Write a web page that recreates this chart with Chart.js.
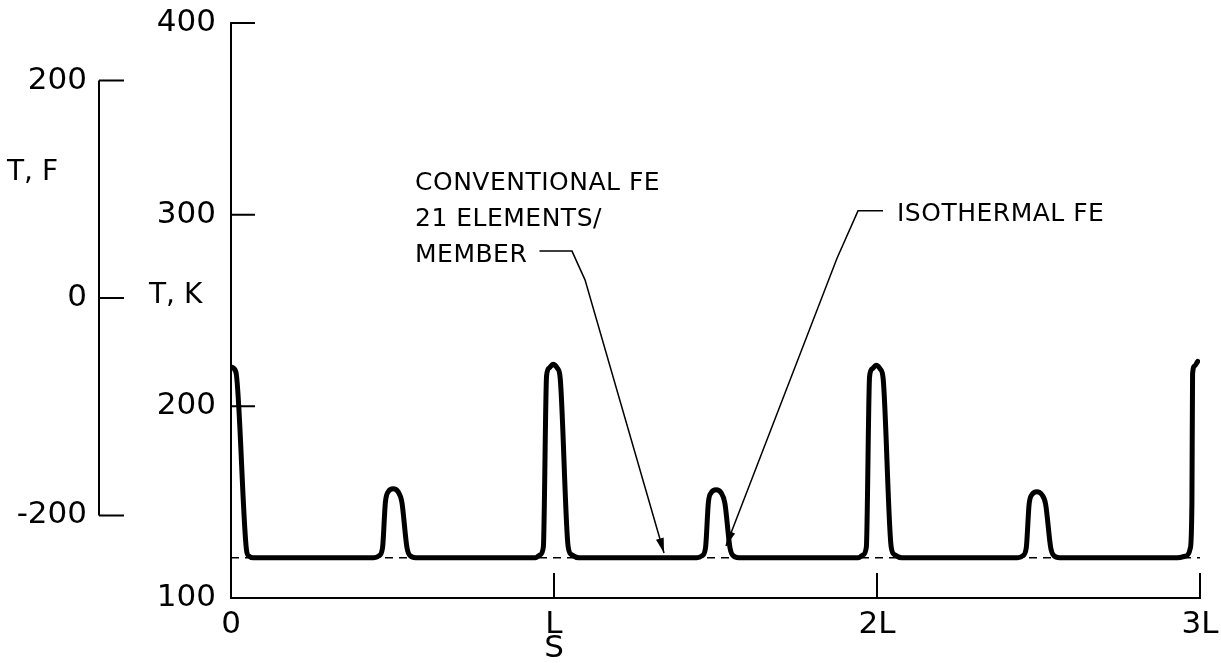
<!DOCTYPE html>
<html>
<head>
<meta charset="utf-8">
<script src="https://cdn.jsdelivr.net/npm/chart.js@4.4.1/dist/chart.umd.min.js"></script>
<style>
  html, body { margin: 0; padding: 0; background: #fff; }
</style>
</head>
<body>
<canvas id="myChart" width="1221" height="663"></canvas>
<script>
// S is in units of member length L, temperatures in K
var sConv = [0, 0.015, 0.048, 0.055, 0.07,
  0.442, 0.458, 0.469, 0.478, 0.487, 0.502, 0.517, 0.529, 0.545, 0.555, 0.572,
  0.942, 0.957, 0.967, 0.977, 0.985, 0.997, 1.010, 1.019, 1.044, 1.055, 1.077,
  1.442, 1.458, 1.469, 1.478, 1.487, 1.502, 1.517, 1.529, 1.545, 1.555, 1.572,
  1.942, 1.957, 1.967, 1.977, 1.985, 1.997, 2.010, 2.019, 2.044, 2.055, 2.077,
  2.435, 2.451, 2.462, 2.471, 2.480, 2.495, 2.510, 2.522, 2.538, 2.548, 2.565,
  2.930, 2.958, 2.970, 2.975, 2.977, 2.983, 2.993];
var tConv = [220.5, 218, 125, 122, 121,
  121, 122, 126, 150, 155.5, 157, 155.5, 150, 126, 122, 121,
  121, 122.5, 126.5, 216, 220, 222, 220, 215, 126.5, 122.5, 121,
  121, 122, 126, 150, 155, 156.5, 155, 149.5, 126, 122, 121,
  121, 122.5, 126.5, 215.5, 219.5, 221.5, 219.5, 214.5, 126.5, 122.5, 121,
  121, 122, 126, 149, 154, 155.5, 154, 149, 126, 122, 121,
  121, 122, 126, 150, 217, 221, 223.5];
var sIso = [0, 3];
var tIso = [121, 121];

var sTicks = [0, 1, 2, 3];
var sTickLabels = ['0', 'L', '2L', '3L'];
var kTicks = [100, 200, 300, 400];
var fTicks = [-200, 0, 200];

var convText = ['CONVENTIONAL FE', '21 ELEMENTS/', 'MEMBER'];
var isoText = 'ISOTHERMAL FE';

function pts(xs, ys) {
  return xs.map(function (x, i) { return { x: x, y: ys[i] }; });
}

var tickFont = { family: 'DejaVu Sans', size: 31 };
var noteFont = '25px "DejaVu Sans"';

function arrowLeader(ctx, chart, path) {
  var x = chart.scales.x, y = chart.scales.y;
  var p = path.map(function (d) { return [x.getPixelForValue(d[0]), y.getPixelForValue(d[1])]; });
  ctx.beginPath();
  ctx.moveTo(p[0][0], p[0][1]);
  for (var i = 1; i < p.length; i++) ctx.lineTo(p[i][0], p[i][1]);
  ctx.stroke();
  // arrow head at the last point
  var a = p[p.length - 2], b = p[p.length - 1];
  var ang = Math.atan2(b[1] - a[1], b[0] - a[0]);
  var len = 15, half = 4;
  ctx.beginPath();
  ctx.moveTo(b[0], b[1]);
  ctx.lineTo(b[0] - len * Math.cos(ang) + half * Math.sin(ang), b[1] - len * Math.sin(ang) - half * Math.cos(ang));
  ctx.lineTo(b[0] - len * Math.cos(ang) - half * Math.sin(ang), b[1] - len * Math.sin(ang) + half * Math.cos(ang));
  ctx.closePath();
  ctx.fill();
}

function noPadY(s) { s.paddingTop = 0; s.paddingBottom = 0; }

var decor = {
  id: 'decor',
  afterDraw: function (chart) {
    var ctx = chart.ctx;
    var x = chart.scales.x, y = chart.scales.y, yF = chart.scales.yF;
    ctx.save();
    ctx.strokeStyle = '#000';
    ctx.fillStyle = '#000';
    ctx.lineWidth = 2;

    // inward tick marks
    ctx.beginPath();
    kTicks.slice(1).forEach(function (v) {
      var py = y.getPixelForValue(v);
      ctx.moveTo(y.right, py); ctx.lineTo(y.right + 24, py);
    });
    sTicks.slice(1).forEach(function (v) {
      var px = x.getPixelForValue(v);
      ctx.moveTo(px, x.top); ctx.lineTo(px, x.top - 25);
    });
    // the T,F scale: line only between its end ticks
    var fTop = yF.getPixelForValue(fTicks[fTicks.length - 1]);
    var fBot = yF.getPixelForValue(fTicks[0]);
    ctx.moveTo(yF.right, fTop); ctx.lineTo(yF.right, fBot);
    fTicks.forEach(function (v) {
      var py = yF.getPixelForValue(v);
      ctx.moveTo(yF.right, py); ctx.lineTo(yF.right + 25, py);
    });
    ctx.stroke();

    // axis titles
    ctx.font = '28px "DejaVu Sans"';
    ctx.textBaseline = 'middle';
    ctx.textAlign = 'left';
    ctx.fillText('T, K', y.left + 50, y.getPixelForValue(257.5));
    ctx.fillText('T, F', yF.left + 7, yF.getPixelForValue(115));
    ctx.textAlign = 'center';
    ctx.font = '31px "DejaVu Sans"';
    ctx.fillText('S', x.getPixelForValue(1), x.bottom - 14);

    // annotations
    ctx.font = noteFont;
    ctx.textAlign = 'left';
    ctx.textBaseline = 'alphabetic';
    if ('letterSpacing' in ctx) ctx.letterSpacing = '0.5px';
    var cx = x.getPixelForValue(0.5697), cy = y.getPixelForValue(312.9);
    convText.forEach(function (t, i) { ctx.fillText(t, cx, cy + i * 36); });
    ctx.fillText(isoText, x.getPixelForValue(2.0619), y.getPixelForValue(296.5));
    if ('letterSpacing' in ctx) ctx.letterSpacing = '0px';

    ctx.lineWidth = 1.5;
    arrowLeader(ctx, chart, [[0.955, 281], [1.0557, 281], [1.096, 266], [1.3406, 123.5]]);
    arrowLeader(ctx, chart, [[2.0186, 302], [1.9412, 302], [1.8762, 277.3], [1.5325, 127.1]]);
    ctx.restore();
  }
};

var ctx = document.getElementById('myChart').getContext('2d');
var chart = new Chart(ctx, {
  type: 'line',
  data: {
    datasets: [{
      label: 'Isothermal FE',
      data: pts(sIso, tIso),
      borderColor: '#000',
      borderWidth: 1.5,
      borderDash: [8, 6],
      pointRadius: 0,
      fill: false
    }, {
      label: 'Conventional FE, 21 elements/member',
      data: pts(sConv, tConv),
      borderColor: '#000',
      borderWidth: 5,
      pointRadius: 0,
      fill: false,
      cubicInterpolationMode: 'monotone',
      borderJoinStyle: 'round',
      borderCapStyle: 'round'
    }]
  },
  options: {
    responsive: false,
    animation: false,
    devicePixelRatio: 1,
    layout: { padding: { top: 23, right: 21, left: 0, bottom: 0 } },
    plugins: { legend: { display: false }, tooltip: { enabled: false } },
    scales: {
      x: {
        type: 'linear',
        min: 0,
        max: 3,
        afterBuildTicks: function (s) { s.ticks = sTicks.map(function (v) { return { value: v }; }); },
        afterFit: function (s) { s.height = 65; s.paddingLeft = 0; s.paddingRight = 0; },
        grid: { display: false, drawTicks: false },
        border: { display: true, color: '#000', width: 2 },
        ticks: {
          color: '#000', font: tickFont, padding: 8, maxRotation: 0, autoSkip: false,
          callback: function (v) { return sTickLabels[sTicks.indexOf(v)]; }
        }
      },
      y: {
        type: 'linear',
        position: 'left',
        weight: 0,
        min: 100,
        max: 400,
        afterBuildTicks: function (s) { s.ticks = kTicks.map(function (v) { return { value: v }; }); },
        afterFit: function (s) { s.width = 132; noPadY(s); },
        grid: { display: false, drawTicks: false },
        border: { display: true, color: '#000', width: 2 },
        ticks: { color: '#000', font: tickFont, padding: 15, autoSkip: false }
      },
      yF: {
        type: 'linear',
        position: 'left',
        weight: 1,
        min: -276,
        max: 253,
        afterBuildTicks: function (s) { s.ticks = fTicks.map(function (v) { return { value: v }; }); },
        afterFit: function (s) { s.width = 99; noPadY(s); },
        grid: { display: false, drawTicks: false },
        border: { display: false },
        ticks: { color: '#000', font: tickFont, padding: 12, autoSkip: false }
      }
    }
  },
  plugins: [decor]
});
</script>
</body>
</html>
